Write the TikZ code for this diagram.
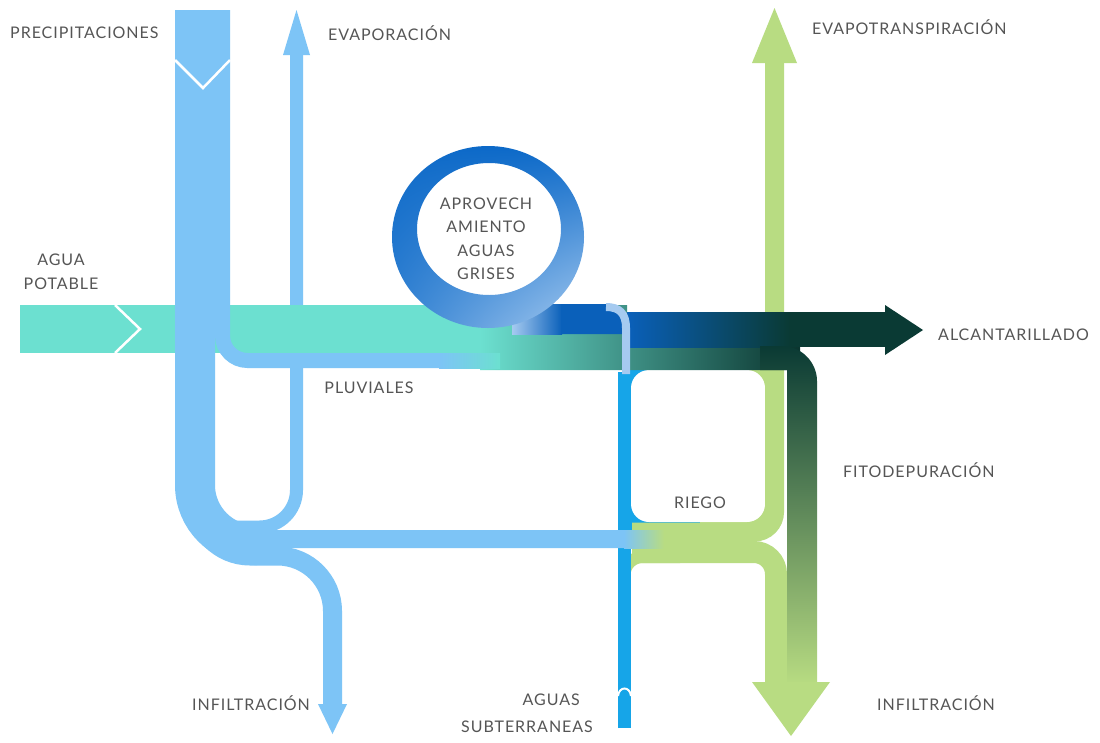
\documentclass[tikz,border=0pt]{standalone}
\usepackage{fontspec}
\setmainfont{Lato}[LetterSpace=6]
\usetikzlibrary{shadings}
\definecolor{lb}{RGB}{125,196,246}
\definecolor{teal1}{RGB}{108,224,208}
\definecolor{midg}{RGB}{45,130,105}
\definecolor{darkg}{RGB}{10,52,46}
\definecolor{gr}{RGB}{184,220,130}
\definecolor{ab}{RGB}{22,165,232}
\definecolor{ringdark}{RGB}{12,105,200}
\definecolor{ringlight}{RGB}{165,202,240}
\definecolor{dblue}{RGB}{10,96,186}
\definecolor{alcdark}{RGB}{10,58,52}
\definecolor{fitomid}{RGB}{60,125,95}
\definecolor{txt}{RGB}{85,85,85}
\begin{document}
\begin{tikzpicture}[x=1pt,y=-1pt,
  lbl/.style={text=txt, font=\fontsize{16}{23.5}\selectfont, inner sep=0pt},
  chev/.style={white, line width=2.5pt}]
\useasboundingbox (0,0) rectangle (1100,742);
\fill[white] (0,0) rectangle (1100,742);

% ---------- evaporation U line (under the teal band)
\draw[lb, line width=13pt, rounded corners=37pt] (296.5,55) -- (296.5,527) -- (205,527);
\fill[lb] (283,55) -- (296.5,10) -- (310,55) -- cycle;

% ---------- riego loop interior
\fill[ab] (624,362) rectangle (700,530);
\fill[gr] (700,362) rectangle (775,530);
\fill[white, rounded corners=18pt] (631,370) rectangle (765,522);

% ---------- green flows
\draw[gr, line width=19pt, rounded corners=20pt] (632,532) -- (774.5,532) -- (774.5,60);
\fill[gr] (752,63) -- (774.5,8) -- (797,63) -- cycle;
\draw[gr, line width=22pt, rounded corners=22pt] (632,552) -- (776,552) -- (776,685);
\draw[gr, line width=12pt, rounded corners=18pt] (624.5,600) -- (624.5,557) -- (680,557);

% ---------- aguas subterraneas
\draw[ab, line width=13pt] (624.5,728) -- (624.5,372);
\draw[white, line width=2pt] (618,696) .. controls (619,686) and (630,686) .. (631,696);

% ---------- light blue horizontal towards riego
\draw[lb, line width=18pt, rounded corners=50pt] (195,400) -- (195,539) -- (625,539);
\shade[left color=lb, right color=gr] (624,530) rectangle (664,548);

% ---------- horizontal band (agua potable)
\fill[teal1] (20,305) rectangle (490,353);
\shade[left color=teal1, middle color=midg, right color=darkg]
  (480,305) -- (627,305) -- (627,312) -- (800,312) -- (800,370) -- (480,370) -- cycle;
\draw[chev] (115,305) -- (140,329) -- (115,353);

% ---------- pluviales
\draw[lb, line width=15pt, rounded corners=25pt] (222.5,10) -- (222.5,360.5) -- (440,360.5);
\shade[left color=lb, right color=teal1] (439,353) rectangle (500,368);

% ---------- precipitaciones main band and infiltration
\draw[lb, line width=40pt, rounded corners=60pt] (195,10) -- (195,545) -- (257,545);
\draw[lb, line width=19pt, rounded corners=55pt] (195,470) -- (195,556) -- (332.5,556) -- (332.5,706);
\fill[lb] (318,704) -- (332.5,734) -- (347,704) -- cycle;
\draw[chev] (175,60) -- (203,88) -- (230,60);

% ---------- aprovechamiento aguas grises (ring) and its outflow
\shade[left color=ringlight, right color=dblue] (512,304) rectangle (562,334);
\fill[dblue] (561,304) -- (607,304) .. controls (618,304) and (627,311) .. (627,322)
  -- (627,334) -- (561,334) -- cycle;
\fill[white] (489,229) ellipse [x radius=72pt, y radius=66pt];
\shade[even odd rule, upper left=ringdark, upper right=ringdark,
  lower left=ringdark!75!ringlight, lower right=ringlight]
  (488,237) ellipse [x radius=96pt, y radius=91pt]
  (489,229) ellipse [x radius=72pt, y radius=66pt];

% ---------- alcantarillado
\shade[left color=dblue, right color=alcdark] (627,312) rectangle (790,347);
\fill[alcdark] (789,312) rectangle (886,347);
\fill[alcdark] (885,305) -- (923,330) -- (885,355) -- cycle;
\draw[ringlight, line width=8pt] (606,307) .. controls (619,307) and (626,313) .. (626,328) -- (626,374);

% ---------- fitodepuracion and infiltration
\shade[top color=alcdark, middle color=fitomid, bottom color=gr]
  (760,346) -- (782,346) .. controls (801,346) and (817,362) .. (817,381)
  -- (817,685) -- (787,685) -- (787,370) -- (760,370) -- cycle;
\fill[gr] (752,682) -- (791,736) -- (830,682) -- cycle;

% ---------- labels
\node[lbl, anchor=west] (tprec) at (10,33) {PRECIPITACIONES};
\node[lbl, anchor=west] (tevap) at (328,33) {EVAPORACIÓN};
\node[lbl, anchor=west] (tevapot) at (812,27) {EVAPOTRANSPIRACIÓN};
\node[lbl, align=center] (tpot) at (61,272) {AGUA\\POTABLE};
\node[lbl, align=center] (tgris) at (486,239) {APROVECH\\AMIENTO\\AGUAS\\GRISES};
\node[lbl] (tpluv) at (369,388) {PLUVIALES};
\node[lbl, anchor=west] (talc) at (938,335) {ALCANTARILLADO};
\node[lbl, anchor=west] (tfito) at (843,470) {FITODEPURACIÓN};
\node[lbl] (triego) at (700,503) {RIEGO};
\node[lbl, anchor=west] (tinfl) at (192,703) {INFILTRACIÓN};
\node[lbl, anchor=east] (taguas) at (580,700) {AGUAS};
\node[lbl, anchor=east] (tsubt) at (593,727) {SUBTERRANEAS};
\node[lbl, anchor=west] (tinfr) at (877,703) {INFILTRACIÓN};
\end{tikzpicture}
\end{document}
